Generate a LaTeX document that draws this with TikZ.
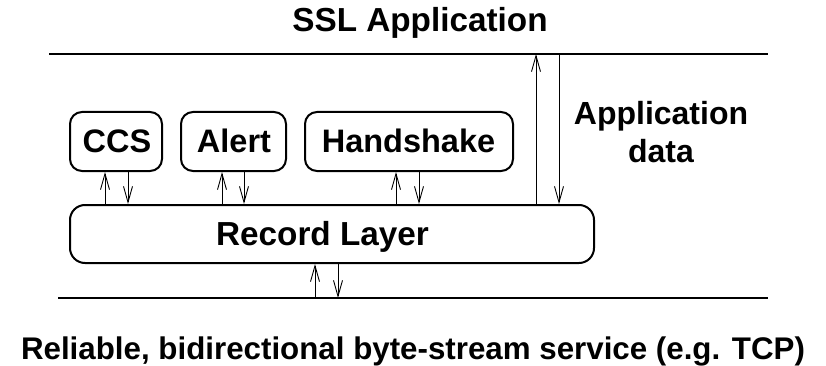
\documentclass[tikz,border=0pt]{standalone}
\usepackage{fontspec}
\setmainfont{Liberation Sans}
\usetikzlibrary{arrows.meta}
\begin{document}
\begin{tikzpicture}[x=1pt,y=-1pt,
  lbl/.style={font=\fontsize{32}{38}\selectfont\bfseries, inner sep=0pt, anchor=base},
  big/.style={font=\fontsize{33.3}{40}\selectfont\bfseries},
  small/.style={font=\fontsize{31.3}{38}\selectfont\bfseries},
  proto/.style={draw, line width=2pt, rounded corners=12pt, inner sep=0pt},
  layerline/.style={line width=2.2pt},
  flow/.style={line width=0.9pt, -{Straight Barb[length=16pt,width=9pt,line width=0.9pt]}}]
\useasboundingbox (0,0) rectangle (826,366);

% layer boundaries
\coordinate (topL) at (49,54);
\coordinate (topR) at (768,54);
\coordinate (botL) at (58,298);
\coordinate (botR) at (768,298);
\draw[layerline] (topL) -- (topR);
\draw[layerline] (botL) -- (botR);

% captions
\node[lbl, big] (app) at (420,32) {SSL Application};
\node[lbl, small] (svc) at (413,359) {Reliable, bidirectional byte-stream service (e.g. TCP)};
\node[lbl] (appdata1) at (661,125) {Application};
\node[lbl] (appdata2) at (661,162) {data};

% protocol boxes
\node[proto, minimum width=92pt, minimum height=59pt] (ccs) at (116,141.5) {};
\node[proto, minimum width=105pt, minimum height=59pt] (alert) at (233.5,141.5) {};
\node[proto, minimum width=208pt, minimum height=59pt] (hs) at (409,141.5) {};
\node[lbl, font=\fontsize{32.5}{38}\selectfont\bfseries] (ccst) at (117,153) {CCS};
\node[lbl, font=\fontsize{32.5}{38}\selectfont\bfseries] (alertt) at (234,153) {Alert};
\node[lbl, font=\fontsize{32.5}{38}\selectfont\bfseries] (hst) at (408.5,153) {Handshake};

% record layer
\node[proto, rounded corners=15pt, minimum width=524pt, minimum height=58pt] (rec) at (332,234) {};
\node[lbl, big] (rect) at (322.5,245) {Record Layer};

% arrow positions
\coordinate (x1) at (105,0);
\coordinate (x2) at (128,0);
\coordinate (x3) at (222,0);
\coordinate (x4) at (244,0);
\coordinate (x5) at (396,0);
\coordinate (x6) at (419,0);
\coordinate (x7) at (536,0);
\coordinate (x8) at (559,0);
\coordinate (x9) at (315,0);
\coordinate (x10) at (338,0);

% record layer <-> protocols
\draw[flow] (rec.north -| x1) -- (ccs.south -| x1);
\draw[flow] (ccs.south -| x2) -- (rec.north -| x2);
\draw[flow] (rec.north -| x3) -- (alert.south -| x3);
\draw[flow] (alert.south -| x4) -- (rec.north -| x4);
\draw[flow] (rec.north -| x5) -- (hs.south -| x5);
\draw[flow] (hs.south -| x6) -- (rec.north -| x6);

% record layer <-> application
\draw[flow] (rec.north -| x7) -- (topL -| x7);
\draw[flow] (topL -| x8) -- (rec.north -| x8);

% transport <-> record layer
\draw[flow] (botL -| x9) -- (rec.south -| x9);
\draw[flow] (rec.south -| x10) -- (botL -| x10);
\end{tikzpicture}
\end{document}
